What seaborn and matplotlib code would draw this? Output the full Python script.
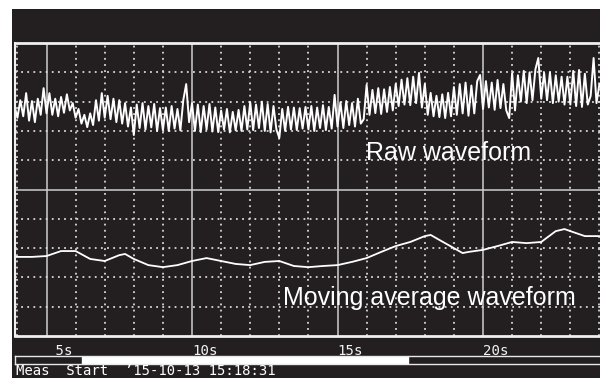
import numpy as np
import pandas as pd
import seaborn as sns
import matplotlib.pyplot as plt
from matplotlib.patches import Rectangle

# time axis of the raw trace: one sample every 0.1 s
raw_t0 = 3.9
raw_dt = 0.1
# raw waveform, in screen divisions (0 = bottom, 10 = top)
raw_vals = [
    7.85, 7.45, 8.05, 7.50, 8.29, 7.35, 8.02, 7.30, 8.10, 7.55,
    8.46, 7.60, 8.29, 7.55, 8.10, 7.50, 8.16, 7.62, 8.25, 7.70,
    7.95, 7.45, 7.75, 7.25, 7.55, 7.13, 7.60, 7.20, 8.05, 7.35,
    8.29, 7.45, 8.20, 7.40, 8.10, 7.30, 8.05, 7.25, 7.95, 7.15,
    7.80, 6.86, 7.90, 7.10, 7.95, 7.05, 7.85, 7.12, 7.92, 7.00,
    7.78, 7.03, 7.80, 7.00, 7.85, 7.08, 7.75, 7.02, 8.05, 8.60,
    7.30, 7.95, 7.00, 7.90, 6.96, 7.85, 7.05, 7.92, 6.98, 7.80,
    6.96, 7.70, 7.05, 7.75, 6.95, 7.65, 7.02, 7.72, 7.00, 7.85,
    7.05, 7.98, 7.03, 7.90, 7.10, 8.00, 7.00, 7.92, 6.95, 7.85,
    7.05, 6.76, 7.75, 7.00, 7.82, 7.05, 7.80, 7.03, 7.78, 7.08,
    7.82, 7.05, 7.85, 7.00, 7.80, 7.10, 7.88, 7.03, 7.82, 7.08,
    8.23, 7.15, 7.98, 7.10, 8.02, 7.20, 7.95, 7.15, 8.10, 7.25,
    7.40, 8.57, 7.55, 8.40, 7.61, 8.46, 7.58, 8.42, 7.65, 8.50,
    7.70, 8.60, 7.85, 8.75, 7.90, 8.80, 7.88, 8.85, 7.95, 8.98,
    7.80, 8.60, 7.55, 8.30, 7.50, 8.20, 7.47, 8.25, 7.44, 8.30,
    7.50, 8.50, 7.55, 8.60, 7.60, 8.65, 7.52, 8.55, 7.60, 8.70,
    8.91, 7.75, 8.70, 7.80, 8.65, 7.72, 8.74, 7.78, 8.60, 7.70,
    7.44, 8.98, 7.70, 8.90, 8.00, 9.05, 7.95, 9.00, 8.05, 9.10,
    9.49, 8.10, 8.98, 8.05, 9.00, 7.95, 8.90, 8.00, 8.85, 7.90,
    8.85, 7.90, 9.05, 7.85, 9.08, 7.82, 8.95, 7.90, 8.20, 9.49,
    7.95, 8.60,
]

# moving average trace
avg_t = [3.9, 4.5, 5.0, 5.5, 6.0, 6.5, 7.0, 7.5, 7.7, 8.0, 8.5, 9.0, 9.5,
         10.0, 10.5, 11.0, 11.5, 12.0, 12.5, 13.0, 13.5, 14.0, 14.5, 15.0,
         15.5, 16.0, 16.5, 17.0, 17.5, 18.0, 18.2, 18.5, 19.0, 19.3, 19.5,
         20.0, 20.5, 21.0, 21.5, 22.0, 22.5, 22.8, 23.0, 23.5, 24.0]
avg_vals = [2.70, 2.70, 2.73, 2.90, 2.90, 2.63, 2.56, 2.76, 2.80, 2.63,
            2.42, 2.35, 2.42, 2.56, 2.66, 2.56, 2.46, 2.42, 2.53, 2.56,
            2.39, 2.35, 2.39, 2.42, 2.53, 2.66, 2.87, 3.07, 3.21, 3.41,
            3.45, 3.28, 3.00, 2.83, 2.87, 2.94, 3.07, 3.21, 3.17, 3.21,
            3.58, 3.65, 3.58, 3.41, 3.41]

major_x = [5, 10, 15, 20]
major_x_labels = [' 5s', '10s', '15s', '20s']
view_start, view_end = 0.115, 0.672   # part of the record shown on screen
status_text = 'Meas  Start  \u201915-10-13 15:18:31'

bg = '#231f20'
grid_c = '#cfcfcf'

sns.set_style('dark', {'axes.facecolor': bg, 'figure.facecolor': 'white'})

raw = pd.DataFrame({'t': raw_t0 + raw_dt * np.arange(len(raw_vals)), 'v': raw_vals})
avg = pd.DataFrame({'t': avg_t, 'v': avg_vals})

fig = plt.figure(figsize=(6, 3.78), dpi=100)
fig.patches.append(Rectangle((0.02, 0), 0.98, 0.976, transform=fig.transFigure,
                             facecolor=bg, edgecolor='none', zorder=-1))

ax = fig.add_axes([0.025, 0.1111, 0.975, 0.775])
sns.lineplot(data=raw, x='t', y='v', ax=ax, color='white', lw=1.4, estimator=None)
sns.lineplot(data=avg, x='t', y='v', ax=ax, color='white', lw=1.3, estimator=None)

ax.set_xlim(3.917, 24.02)
ax.set_ylim(0, 10)
ax.set_xlabel('')
ax.set_ylabel('')

ax.set_xticks(major_x, labels=major_x_labels)
ax.set_xticks([s for s in range(4, 25) if s not in major_x], minor=True)
ax.set_yticks([5], labels=[''])
ax.set_yticks([d for d in range(1, 10) if d != 5], minor=True)
ax.tick_params(which='both', length=0)
ax.tick_params(axis='x', pad=5.5, labelsize=10.2, labelcolor='#f2f2f2')
for lab in ax.get_xticklabels():
    lab.set_fontfamily('DejaVu Sans Mono')
    lab.set_ha('left')

ax.grid(which='major', color=grid_c, lw=1.1, ls='-')
ax.grid(which='minor', color='#d8d8d8', lw=1.3, ls=(0, (1, 2.4)))
ax.set_axisbelow(True)

for side in ['top', 'left', 'bottom']:
    ax.spines[side].set_visible(True)
    ax.spines[side].set_color('#f0f0f0')
ax.spines['top'].set_linewidth(2.0)
ax.spines['bottom'].set_linewidth(2.0)
ax.spines['left'].set_linewidth(1.5)
ax.spines['right'].set_visible(False)

ax.text(15.98, 6.0, 'Raw waveform', color='white', fontsize=18,
        family='Liberation Sans', va='baseline', ha='left')
ax.text(13.13, 1.06, 'Moving average waveform', color='white', fontsize=18,
        family='Liberation Sans', va='baseline', ha='left')

# scroll bar showing the visible window
bax = fig.add_axes([0.025, 0.037, 0.975, 0.021])
bax.set_facecolor(bg)
bax.barh(0, view_end - view_start, left=view_start, height=1, color='white')
bax.set_xlim(0, 1)
bax.set_ylim(-0.5, 0.5)
bax.set_xticks([])
bax.set_yticks([])
for side in ['top', 'left', 'bottom']:
    bax.spines[side].set_visible(True)
    bax.spines[side].set_color('#e8e8e8')
    bax.spines[side].set_linewidth(1.0)
bax.spines['right'].set_visible(False)

fig.text(0.027, 0.0075, status_text, color='white', fontsize=10.0,
         family='DejaVu Sans Mono', va='baseline', ha='left')

fig.savefig('out.png', dpi=100)
